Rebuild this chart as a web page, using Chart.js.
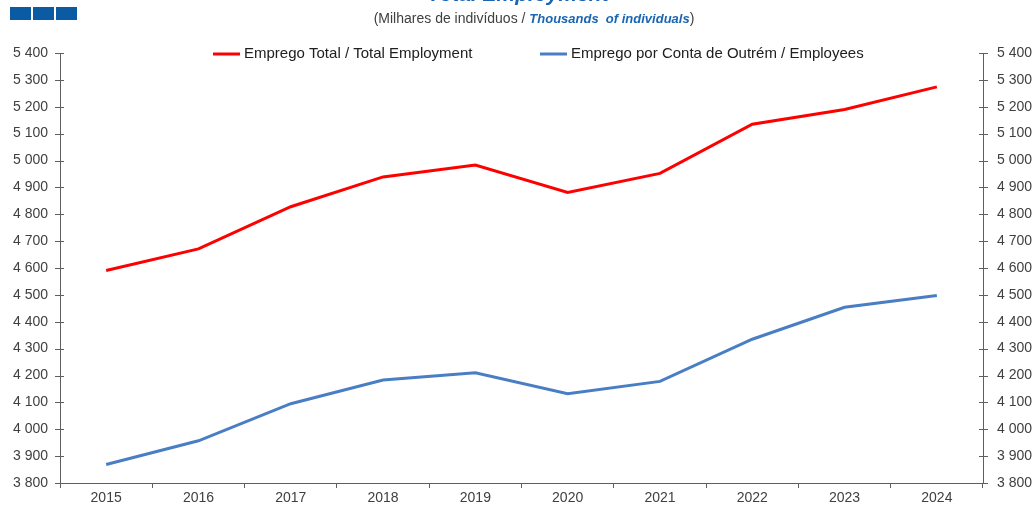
<!DOCTYPE html>
<html>
<head>
<meta charset="utf-8">
<script src="https://cdn.jsdelivr.net/npm/chart.js@4.4.0/dist/chart.umd.min.js"></script>
<style>
    html, body { margin: 0; padding: 0; background: #fff; }
    #wrap { width: 1034px; height: 506px; position: relative; }
</style>
</head>
<body>
<div id="wrap"><canvas id="employmentChart"></canvas></div>
<script>
// Data (thousands of individuals)
const years = ['2015', '2016', '2017', '2018', '2019', '2020', '2021', '2022', '2023', '2024'];
const totalEmployment = [4591, 4671, 4828, 4939, 4983, 4881, 4952, 5135, 5190, 5274];
const employees = [3869, 3957, 4095, 4183, 4210, 4132, 4178, 4335, 4454, 4498];
const seriesLabels = ['Emprego Total / Total Employment', 'Emprego por Conta de Outrém / Employees'];
const yMin = 3800;
const yMax = 5400;
const yStep = 100;

const FONT = '"Liberation Sans", Arial, sans-serif';
const AXIS_COLOR = '#5f5f5f';
const TEXT_COLOR = '#404040';

function formatThousands(v) {
    return String(v).replace(/\B(?=(\d{3})+(?!\d))/g, ' ');
}

// Header (cut title, subtitle, blue blocks), crossing y ticks and inline legend
const decorPlugin = {
    id: 'decor',
    afterDraw(chart) {
        const ctx = chart.ctx;
        const area = chart.chartArea;
        ctx.save();

        // blue blocks at top-left
        ctx.fillStyle = '#0a5aa4';
        [10, 33, 56].forEach(x => ctx.fillRect(x, 7, 21, 13));

        // title (mostly cut off at top)
        ctx.fillStyle = '#1a66b3';
        ctx.font = 'italic bold 21px ' + FONT;
        ctx.textAlign = 'center';
        ctx.textBaseline = 'alphabetic';
        ctx.fillText('Total Employment', 518, 1);

        // subtitle with mixed styles
        const partA = '(Milhares de indivíduos / ';
        const partB = 'Thousands  of individuals';
        const partC = ')';
        ctx.textBaseline = 'middle';
        ctx.textAlign = 'left';
        ctx.font = '14px ' + FONT;
        const wA = ctx.measureText(partA).width;
        const wC = ctx.measureText(partC).width;
        ctx.font = 'italic bold 13px ' + FONT;
        const wB = ctx.measureText(partB).width;
        let x = 534 - (wA + wB + wC) / 2;
        ctx.font = '14px ' + FONT;
        ctx.fillStyle = TEXT_COLOR;
        ctx.fillText(partA, x, 19);
        x += wA;
        ctx.font = 'italic bold 13px ' + FONT;
        ctx.fillStyle = '#1a66b3';
        ctx.fillText(partB, x, 19);
        x += wB;
        ctx.font = '14px ' + FONT;
        ctx.fillStyle = TEXT_COLOR;
        ctx.fillText(partC, x, 19);

        // tick marks crossing both y axes
        ctx.strokeStyle = AXIS_COLOR;
        ctx.lineWidth = 1;
        const yScale = chart.scales.y;
        yScale.ticks.forEach(t => {
            const py = Math.round(yScale.getPixelForValue(t.value)) + 0.5;
            ctx.beginPath();
            ctx.moveTo(area.left - 5, py);
            ctx.lineTo(area.left + 4, py);
            ctx.moveTo(area.right - 4, py);
            ctx.lineTo(area.right + 5, py);
            ctx.stroke();
        });

        // legend inside plot area
        const legendPos = [213, 540];
        ctx.font = '15px ' + FONT;
        ctx.textAlign = 'left';
        ctx.textBaseline = 'middle';
        chart.data.datasets.forEach((ds, i) => {
            const lx = legendPos[i];
            const ly = area.top + 1;
            ctx.strokeStyle = ds.borderColor;
            ctx.lineWidth = 3;
            ctx.beginPath();
            ctx.moveTo(lx, ly);
            ctx.lineTo(lx + 27, ly);
            ctx.stroke();
            ctx.fillStyle = '#202020';
            ctx.fillText(ds.label, lx + 31, ly);
        });
        ctx.restore();
    }
};

function yAxis(position, width) {
    return {
        type: 'linear',
        position: position,
        min: yMin,
        max: yMax,
        grid: { display: false, drawTicks: false },
        border: { display: true, color: AXIS_COLOR, width: 1 },
        ticks: {
            stepSize: yStep,
            padding: position === 'left' ? 12 : 14,
            color: TEXT_COLOR,
            font: { family: FONT, size: 14 },
            callback: v => formatThousands(v)
        },
        afterFit(scale) { scale.width = width; }
    };
}

new Chart(document.getElementById('employmentChart'), {
    type: 'line',
    data: {
        labels: years,
        datasets: [
            {
                label: seriesLabels[0],
                data: totalEmployment,
                borderColor: '#ff0000',
                backgroundColor: '#ff0000',
                borderWidth: 3,
                pointRadius: 0,
                tension: 0,
                yAxisID: 'y'
            },
            {
                label: seriesLabels[1],
                data: employees,
                borderColor: '#4a7ec4',
                backgroundColor: '#4a7ec4',
                borderWidth: 3,
                pointRadius: 0,
                tension: 0,
                yAxisID: 'y'
            }
        ]
    },
    options: {
        responsive: true,
        maintainAspectRatio: false,
        animation: false,
        layout: { padding: { top: 53, left: 0, right: 0, bottom: 0 } },
        plugins: {
            legend: { display: false },
            tooltip: { enabled: false }
        },
        scales: {
            x: {
                offset: true,
                grid: {
                    display: true,
                    offset: true,
                    drawOnChartArea: false,
                    drawTicks: true,
                    tickLength: 5,
                    color: AXIS_COLOR
                },
                border: { display: true, color: AXIS_COLOR, width: 1 },
                ticks: {
                    color: TEXT_COLOR,
                    padding: 2,
                    font: { family: FONT, size: 14 },
                    maxRotation: 0
                },
                afterFit(scale) { scale.height = 23; }
            },
            y: yAxis('left', 60),
            y2: yAxis('right', 51)
        }
    },
    plugins: [decorPlugin]
});
</script>
</body>
</html>
